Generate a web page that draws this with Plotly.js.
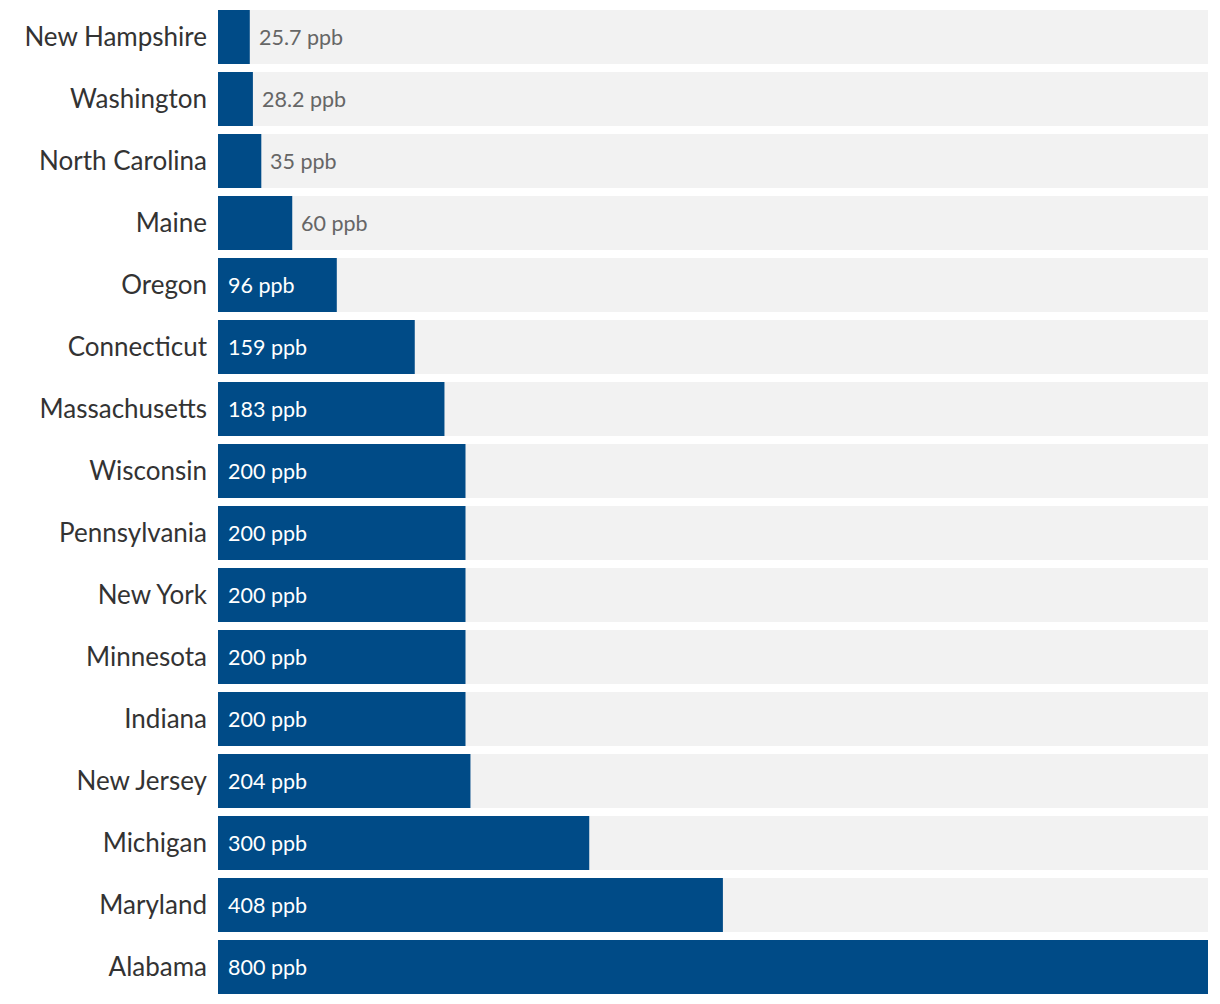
<!DOCTYPE html>
<html>
<head>
<meta charset="utf-8">
<script src="https://cdn.plot.ly/plotly-3.0.1.min.js"></script>
<style>html,body{margin:0;padding:0;background:#fff;}#chart{width:1220px;height:1004px;}</style>
</head>
<body>
<div id="chart"></div>
<script>
const states = ["New Hampshire","Washington","North Carolina","Maine","Oregon","Connecticut","Massachusetts","Wisconsin","Pennsylvania","New York","Minnesota","Indiana","New Jersey","Michigan","Maryland","Alabama"];
const values = [25.7,28.2,35,60,96,159,183,200,200,200,200,200,204,300,408,800];
const labels = ["25.7 ppb","28.2 ppb","35 ppb","60 ppb","96 ppb","159 ppb","183 ppb","200 ppb","200 ppb","200 ppb","200 ppb","200 ppb","204 ppb","300 ppb","408 ppb","800 ppb"];
const maxValue = 800;

const FONT = "Lato, 'Source Sans Pro', 'Noto Sans', sans-serif";

const bg = {
  type: 'bar', orientation: 'h',
  y: states, x: states.map(() => maxValue),
  marker: {color: '#f2f2f2'},
  hoverinfo: 'skip', showlegend: false
};
const fg = {
  type: 'bar', orientation: 'h',
  y: states, x: values,
  marker: {color: '#004b87'},
  showlegend: false
};

const annotations = values.map((v, i) => {
  const outside = v < 80;
  return {
    x: outside ? v : 0, y: states[i], xref: 'x', yref: 'y',
    text: labels[i], showarrow: false,
    xanchor: 'left', yanchor: 'middle',
    xshift: outside ? 7 : 8,
    font: {family: FONT, size: 21.5, color: outside ? '#666666' : '#ffffff'}
  };
});

const layout = {
  width: 1220, height: 1004,
  margin: {l: 218, r: 12, t: 6, b: 6, pad: 0},
  paper_bgcolor: '#ffffff', plot_bgcolor: '#ffffff',
  barmode: 'overlay', bargap: 0.13,
  font: {family: FONT},
  xaxis: {range: [0, maxValue], visible: false, fixedrange: true},
  yaxis: {
    autorange: 'reversed', showgrid: false, zeroline: false, showline: false,
    ticks: '', ticklabelstandoff: 10,
    tickfont: {family: FONT, size: 26, color: '#333333'}
  },
  annotations: annotations
};

Plotly.newPlot('chart', [bg, fg], layout, {displayModeBar: false, staticPlot: true});
</script>
</body>
</html>
